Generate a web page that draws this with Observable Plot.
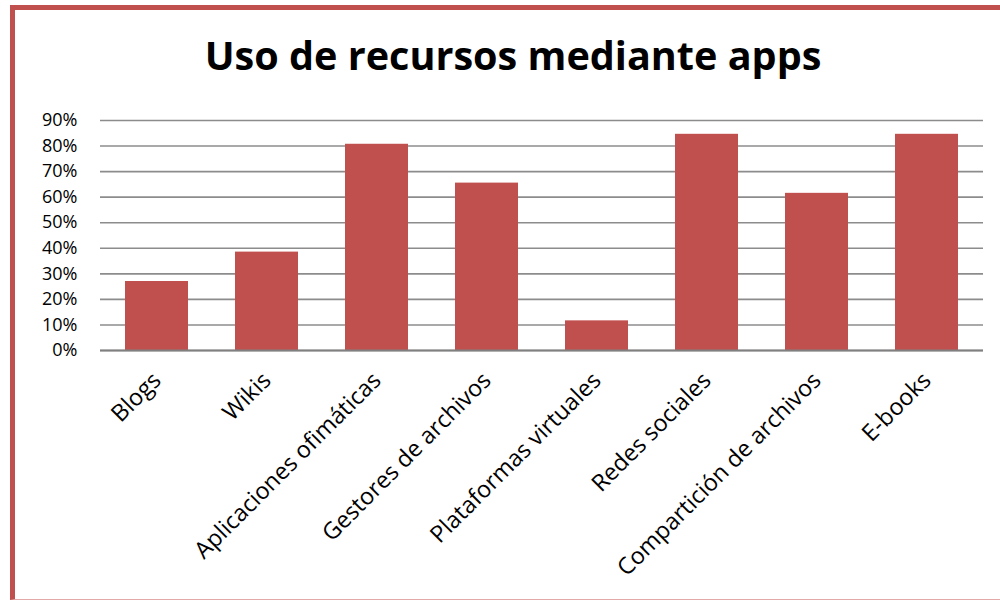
<!DOCTYPE html>
<html>
<head>
<meta charset="utf-8">
<script src="https://cdn.jsdelivr.net/npm/d3@7"></script>
<script src="https://cdn.jsdelivr.net/npm/@observablehq/plot@0.6"></script>
<style>
  html, body { margin: 0; padding: 0; background: #fff; }
  #wrap { position: relative; width: 1000px; height: 600px; overflow: hidden; font-family: "Open Sans", sans-serif; }
  #border { position: absolute; left: 10px; top: 5px; right: -10px; bottom: 0px; border-left: 5px solid #C0504D; border-top: 5px solid #C0504D; border-bottom: 1px solid #E3A9A8; box-sizing: border-box; }
  #title { position: absolute; left: 0; top: 28px; width: 1026px; text-align: center; font-family: "Open Sans", sans-serif; font-weight: bold; font-size: 39.6px; color: #000; }
  #chart { position: absolute; left: 0; top: 95px; }
  #chart g[aria-label="x-axis tick label"] { font-size: 23.3px; }
  #chart g[aria-label="y-axis tick label"] { font-size: 18px; }
</style>
</head>
<body>
<div id="wrap">
  <div id="border"></div>
  <div id="title">Uso de recursos mediante apps</div>
  <div id="chart"></div>
</div>
<script>
const categories = ["Blogs", "Wikis", "Aplicaciones ofimáticas", "Gestores de archivos", "Plataformas virtuales", "Redes sociales", "Compartición de archivos", "E-books"];
const values = [0.27, 0.385, 0.807, 0.655, 0.116, 0.846, 0.615, 0.846];
const yTicks = [0, 0.1, 0.2, 0.3, 0.4, 0.5, 0.6, 0.7, 0.8, 0.9];

const data = categories.map((c, i) => ({category: c, value: values[i]}));

const chart = Plot.plot({
  width: 1000,
  height: 505,
  marginTop: 25,
  marginBottom: 250,
  marginLeft: 100,
  marginRight: 17,
  style: {fontFamily: "Open Sans, sans-serif", fontSize: "18px", color: "#000", background: "transparent"},
  x: {domain: categories, paddingInner: 0.43, paddingOuter: 0.215, label: null},
  y: {domain: [0, 0.9], label: null},
  marks: [
    Plot.gridY(yTicks, {stroke: "#8c8c8c", strokeOpacity: 1, strokeWidth: 1.6}),
    Plot.barY(data, {x: "category", y: "value", fill: "#C0504D"}),
    Plot.ruleY([0], {stroke: "#808080", strokeWidth: 2}),
    Plot.axisY(yTicks, {tickSize: 0, tickPadding: 23, tickFormat: d => Math.round(d * 100) + "%", label: null}),
    Plot.axisX({tickSize: 0, tickRotate: -45, tickPadding: 26, label: null})
  ]
});
document.getElementById("chart").appendChild(chart);
</script>
</body>
</html>
